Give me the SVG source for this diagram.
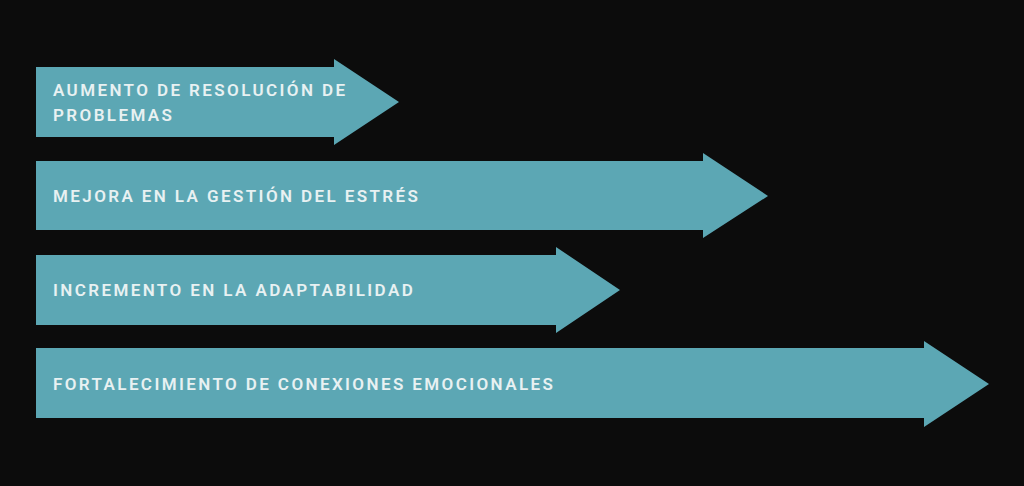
<svg xmlns="http://www.w3.org/2000/svg" width="1024" height="486" viewBox="0 0 1024 486">
<style>
.arrow{fill:#5ca7b4}
.lbl{font-family:Roboto,"Liberation Sans",sans-serif;font-weight:600;font-size:17px;letter-spacing:2.4px;fill:#e8f1f2}
</style>
<rect width="1024" height="486" fill="#0c0c0c"/>
<g id="connectors"></g>
<g id="node1">
<polygon class="arrow" points="36,67 334,67 334,59 399,102 334,145 334,137 36,137"/>
<text class="lbl" x="53" y="96">AUMENTO DE RESOLUCIÓN DE</text>
<text class="lbl" x="53" y="121">PROBLEMAS</text>
</g>
<g id="node2">
<polygon class="arrow" points="36,161 703,161 703,153 768,196 703,238 703,230 36,230"/>
<text class="lbl" x="53" y="202">MEJORA EN LA GESTIÓN DEL ESTRÉS</text>
</g>
<g id="node3">
<polygon class="arrow" points="36,255 556,255 556,247 620,290 556,333 556,325 36,325"/>
<text class="lbl" x="53" y="296">INCREMENTO EN LA ADAPTABILIDAD</text>
</g>
<g id="node4">
<polygon class="arrow" points="36,348 924,348 924,341 989,384 924,427 924,418 36,418"/>
<text class="lbl" x="53" y="390">FORTALECIMIENTO DE CONEXIONES EMOCIONALES</text>
</g>
</svg>
